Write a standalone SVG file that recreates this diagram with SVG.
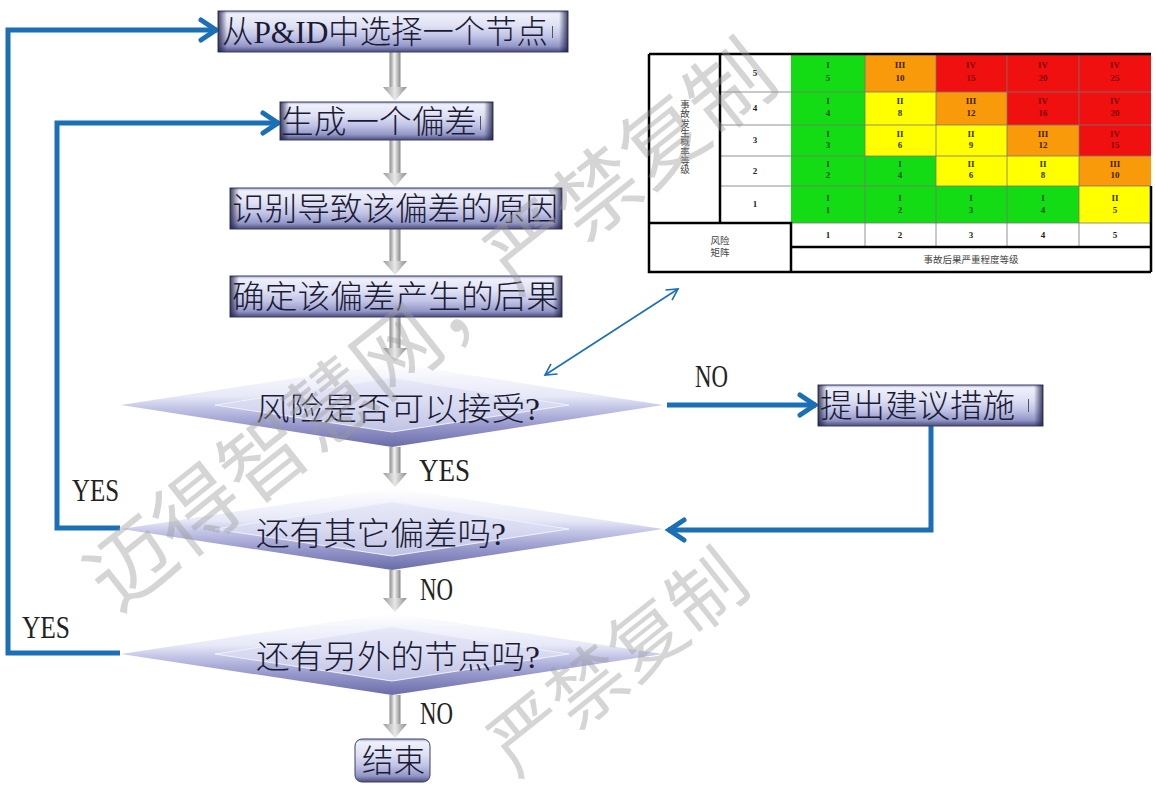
<svg xmlns="http://www.w3.org/2000/svg" width="1156" height="802" viewBox="0 0 1156 802">
<style>
.bt{font-family:"Liberation Serif","Noto Sans CJK SC",serif;font-size:32px;font-weight:300;fill:#1b1b35;dominant-baseline:central}
.lbl{font-family:"Liberation Serif",serif;font-size:32px;fill:#222}
.box{fill:url(#gBox);stroke:#3c3e66;stroke-width:1}
.bevL{fill:url(#gBevL)}
.bevR{fill:url(#gBevR)}
.dOut{fill:url(#gDiaO)}
.dIn{fill:url(#gDiaI);stroke:#eef0fb;stroke-width:1}
.shaft{fill:url(#gShaft)}
.head{fill:url(#gHead)}
.blue{fill:none;stroke:#1b6fb5;stroke-width:5;stroke-linejoin:miter}
.thin{fill:none;stroke:#1b6fb5;stroke-width:1.6}
.cur{stroke:#555;stroke-width:1}
.mt{font-family:"Liberation Serif",serif;font-size:9px;font-weight:bold;text-anchor:middle}
.ml{font-family:"Liberation Serif","Noto Sans CJK SC",serif;font-size:9.5px;fill:#444;text-anchor:middle}
.g{fill:#14dc14}.y{fill:#ffff00}.o{fill:#f99a0a}.r{fill:#f01010}
.tg{fill:#1c4d1c}.ty{fill:#333300}.to{fill:#3a2000}.tr{fill:#7a0000}
.thick{stroke:#000;stroke-width:2.5;fill:none}
.grid{stroke:#777;stroke-width:0.8;fill:none}
.wm{font-family:"Noto Sans CJK SC",sans-serif;font-size:85px;fill:#9a9a9a;fill-opacity:0.42;text-anchor:middle;dominant-baseline:central}
</style>
<defs>
<linearGradient id="gBox" x1="0" y1="0" x2="0" y2="1">
<stop offset="0" stop-color="#a4a7cb"/>
<stop offset="0.07" stop-color="#eef0fa"/>
<stop offset="0.35" stop-color="#e0e2f4"/>
<stop offset="0.62" stop-color="#c0c3e5"/>
<stop offset="0.86" stop-color="#9296c7"/>
<stop offset="1" stop-color="#4a4d7e"/>
</linearGradient>
<linearGradient id="gBevL" x1="0" y1="0" x2="1" y2="0">
<stop offset="0" stop-color="#1e2046" stop-opacity="0.85"/>
<stop offset="1" stop-color="#1e2046" stop-opacity="0"/>
</linearGradient>
<linearGradient id="gBevR" x1="1" y1="0" x2="0" y2="0">
<stop offset="0" stop-color="#1e2046" stop-opacity="0.85"/>
<stop offset="1" stop-color="#1e2046" stop-opacity="0"/>
</linearGradient>
<linearGradient id="gDiaO" x1="0" y1="0" x2="0" y2="1">
<stop offset="0" stop-color="#ffffff"/>
<stop offset="0.4" stop-color="#e6e8f7"/>
<stop offset="0.52" stop-color="#c6c8e8"/>
<stop offset="0.75" stop-color="#9597cb"/>
<stop offset="1" stop-color="#6a6ca8"/>
</linearGradient>
<linearGradient id="gDiaI" x1="0" y1="0" x2="0" y2="1">
<stop offset="0" stop-color="#e8eaf8"/>
<stop offset="0.5" stop-color="#d8daf1"/>
<stop offset="1" stop-color="#bfc2e3"/>
</linearGradient>
<linearGradient id="gShaft" x1="0" y1="0" x2="1" y2="0">
<stop offset="0" stop-color="#8a8a8a"/>
<stop offset="0.45" stop-color="#f2f2f2"/>
<stop offset="1" stop-color="#888888"/>
</linearGradient>
<linearGradient id="gHead" x1="0" y1="0" x2="1" y2="0">
<stop offset="0" stop-color="#9a9a9a"/>
<stop offset="0.5" stop-color="#e8e8e8"/>
<stop offset="1" stop-color="#8c8c8c"/>
</linearGradient>
<marker id="chev" markerUnits="userSpaceOnUse" viewBox="0 0 24 26" markerWidth="24" markerHeight="26" refX="20" refY="13" orient="auto">
<path d="M4,3 L19,13 L4,23" fill="none" stroke="#1b6fb5" stroke-width="5" stroke-linecap="round" stroke-linejoin="miter"/>
</marker>
<marker id="chevT" markerUnits="userSpaceOnUse" viewBox="0 0 16 16" markerWidth="16" markerHeight="16" refX="14" refY="8" orient="auto-start-reverse">
<path d="M3,2 L14,8 L3,14" fill="none" stroke="#1b6fb5" stroke-width="1.6"/>
</marker>
</defs>

<rect x="0" y="0" width="1156" height="802" fill="#ffffff"/>

<!-- gray flow arrows -->
<g id="gray-arrows">
<rect class="shaft" x="389.5" y="52" width="11" height="36"/><polygon class="head" points="383,87 407,87 395,101"/>
<rect class="shaft" x="389.5" y="140" width="11" height="34"/><polygon class="head" points="383,173 407,173 395,187"/>
<rect class="shaft" x="389.5" y="229" width="11" height="33"/><polygon class="head" points="383,261 407,261 395,275"/>
<rect class="shaft" x="389.5" y="317" width="11" height="32"/><polygon class="head" points="383,348 407,348 395,362"/>
<rect class="shaft" x="389.5" y="447" width="11" height="27"/><polygon class="head" points="383,473 407,473 395,487"/>
<rect class="shaft" x="389.5" y="570" width="11" height="29"/><polygon class="head" points="383,598 407,598 395,612"/>
<rect class="shaft" x="389.5" y="695" width="11" height="30"/><polygon class="head" points="383,724 407,724 395,738"/>
</g>

<!-- blue connectors -->
<g id="connectors">
<path class="blue" d="M120,653 H8 V30 H217" marker-end="url(#chev)"/>
<path class="blue" d="M120,528 H57 V123 H279" marker-end="url(#chev)"/>
<path class="blue" d="M667,405 H816" marker-end="url(#chev)"/>
<path class="blue" d="M931,426 V530 H668" marker-end="url(#chev)"/>
<path class="thin" d="M545,375 L678,289" marker-start="url(#chevT)" marker-end="url(#chevT)"/>
</g>

<!-- nodes -->
<g id="n-select">
<rect class="box" x="218" y="11" width="350" height="41"/>
<rect class="bevL" x="218" y="11" width="9" height="41"/><rect class="bevR" x="559" y="11" width="9" height="41"/>
<text class="bt" x="222" y="32" textLength="326" lengthAdjust="spacingAndGlyphs">从P&amp;ID中选择一个节点</text>
<line class="cur" x1="552.5" y1="26" x2="552.5" y2="38"/>
</g>
<g id="n-deviation">
<rect class="box" x="280" y="102" width="213" height="38"/>
<rect class="bevL" x="280" y="102" width="9" height="38"/><rect class="bevR" x="484" y="102" width="9" height="38"/>
<text class="bt" x="281" y="121.5" textLength="196" lengthAdjust="spacingAndGlyphs">生成一个偏差</text>
<line class="cur" x1="480.5" y1="116" x2="480.5" y2="130"/>
</g>
<g id="n-causes">
<rect class="box" x="230" y="188" width="332" height="41"/>
<rect class="bevL" x="230" y="188" width="9" height="41"/><rect class="bevR" x="553" y="188" width="9" height="41"/>
<text class="bt" x="232" y="209" textLength="326" lengthAdjust="spacingAndGlyphs">识别导致该偏差的原因</text>
</g>
<g id="n-consequences">
<rect class="box" x="230" y="276" width="332" height="41"/>
<rect class="bevL" x="230" y="276" width="9" height="41"/><rect class="bevR" x="553" y="276" width="9" height="41"/>
<text class="bt" x="232" y="297" textLength="327" lengthAdjust="spacingAndGlyphs">确定该偏差产生的后果</text>
</g>
<g id="d-risk">
<polygon class="dOut" points="121,405 392,363 663,405 392,447"/>
<polygon class="dIn" points="215,405 392,378 569,405 392,432"/>
<text class="bt" x="256" y="409" textLength="284" lengthAdjust="spacingAndGlyphs">风险是否可以接受?</text>
</g>
<g id="d-other-dev">
<polygon class="dOut" points="121,529 392,488 663,529 392,570"/>
<polygon class="dIn" points="215,529 392,502 569,529 392,556"/>
<text class="bt" x="256" y="534" textLength="250" lengthAdjust="spacingAndGlyphs">还有其它偏差吗?</text>
</g>
<g id="d-other-node">
<polygon class="dOut" points="121,654 392,613 663,654 392,695"/>
<polygon class="dIn" points="215,654 392,627 569,654 392,681"/>
<text class="bt" x="256" y="657" textLength="284" lengthAdjust="spacingAndGlyphs">还有另外的节点吗?</text>
</g>
<g id="n-measures">
<rect class="box" x="818" y="385" width="225" height="41"/>
<rect class="bevL" x="818" y="385" width="9" height="41"/><rect class="bevR" x="1034" y="385" width="9" height="41"/>
<text class="bt" x="820" y="406" textLength="195" lengthAdjust="spacingAndGlyphs">提出建议措施</text>
<line class="cur" x1="1028.5" y1="399" x2="1028.5" y2="412"/>
</g>
<g id="n-end">
<rect class="box" x="355" y="739" width="75" height="43" rx="7"/>
<text class="bt" x="362" y="761" textLength="63" lengthAdjust="spacingAndGlyphs">结束</text>
</g>

<!-- labels -->
<g id="labels">
<text class="lbl" x="695" y="387" textLength="33" lengthAdjust="spacingAndGlyphs">NO</text>
<text class="lbl" x="419" y="481" textLength="51" lengthAdjust="spacingAndGlyphs">YES</text>
<text class="lbl" x="420" y="600" textLength="33" lengthAdjust="spacingAndGlyphs">NO</text>
<text class="lbl" x="420" y="724" textLength="33" lengthAdjust="spacingAndGlyphs">NO</text>
<text class="lbl" x="72" y="501" textLength="47" lengthAdjust="spacingAndGlyphs">YES</text>
<text class="lbl" x="22" y="638" textLength="48" lengthAdjust="spacingAndGlyphs">YES</text>
</g>

<!-- risk matrix -->
<g id="risk-matrix">
<rect x="649" y="54" width="502" height="218" fill="#ffffff"/>
<rect class="g" x="791" y="54" width="74" height="38"/><rect class="o" x="865" y="54" width="71" height="38"/><rect class="r" x="936" y="54" width="71" height="38"/><rect class="r" x="1007" y="54" width="72" height="38"/><rect class="r" x="1079" y="54" width="72" height="38"/>
<rect class="g" x="791" y="92" width="74" height="33"/><rect class="y" x="865" y="92" width="71" height="33"/><rect class="o" x="936" y="92" width="71" height="33"/><rect class="r" x="1007" y="92" width="72" height="33"/><rect class="r" x="1079" y="92" width="72" height="33"/>
<rect class="g" x="791" y="125" width="74" height="31"/><rect class="y" x="865" y="125" width="71" height="31"/><rect class="y" x="936" y="125" width="71" height="31"/><rect class="o" x="1007" y="125" width="72" height="31"/><rect class="r" x="1079" y="125" width="72" height="31"/>
<rect class="g" x="791" y="156" width="74" height="30"/><rect class="g" x="865" y="156" width="71" height="30"/><rect class="y" x="936" y="156" width="71" height="30"/><rect class="y" x="1007" y="156" width="72" height="30"/><rect class="o" x="1079" y="156" width="72" height="30"/>
<rect class="g" x="791" y="186" width="74" height="37"/><rect class="g" x="865" y="186" width="71" height="37"/><rect class="g" x="936" y="186" width="71" height="37"/><rect class="g" x="1007" y="186" width="72" height="37"/><rect class="y" x="1079" y="186" width="72" height="37"/>

<path class="grid" d="M720,92 H1151 M720,125 H1151 M720,156 H1151 M720,186 H1151 M791,223 H1151 M865,54 V247 M936,54 V247 M1007,54 V247 M1079,54 V247"/>
<path class="thick" d="M649,54 H1151 M649,54 V272 H1151 M720,54 V223 M649,223 H791 V272 M1151,186 V272 M791,247 H1151"/>

<g class="mt">
<text class="tg" x="828" y="68">I</text><text class="tg" x="828" y="81">5</text>
<text class="to" x="900" y="68">III</text><text class="to" x="900" y="81">10</text>
<text class="tr" x="971" y="68">IV</text><text class="tr" x="971" y="81">15</text>
<text class="tr" x="1043" y="68">IV</text><text class="tr" x="1043" y="81">20</text>
<text class="tr" x="1115" y="68">IV</text><text class="tr" x="1115" y="81">25</text>

<text class="tg" x="828" y="104">I</text><text class="tg" x="828" y="116">4</text>
<text class="ty" x="900" y="104">II</text><text class="ty" x="900" y="116">8</text>
<text class="to" x="971" y="104">III</text><text class="to" x="971" y="116">12</text>
<text class="tr" x="1043" y="104">IV</text><text class="tr" x="1043" y="116">16</text>
<text class="tr" x="1115" y="104">IV</text><text class="tr" x="1115" y="116">20</text>

<text class="tg" x="828" y="137">I</text><text class="tg" x="828" y="148">3</text>
<text class="ty" x="900" y="137">II</text><text class="ty" x="900" y="148">6</text>
<text class="ty" x="971" y="137">II</text><text class="ty" x="971" y="148">9</text>
<text class="to" x="1043" y="137">III</text><text class="to" x="1043" y="148">12</text>
<text class="tr" x="1115" y="137">IV</text><text class="tr" x="1115" y="148">15</text>

<text class="tg" x="828" y="167">I</text><text class="tg" x="828" y="178">2</text>
<text class="tg" x="900" y="167">I</text><text class="tg" x="900" y="178">4</text>
<text class="ty" x="971" y="167">II</text><text class="ty" x="971" y="178">6</text>
<text class="ty" x="1043" y="167">II</text><text class="ty" x="1043" y="178">8</text>
<text class="to" x="1115" y="167">III</text><text class="to" x="1115" y="178">10</text>

<text class="tg" x="828" y="201">I</text><text class="tg" x="828" y="213">1</text>
<text class="tg" x="900" y="201">I</text><text class="tg" x="900" y="213">2</text>
<text class="tg" x="971" y="201">I</text><text class="tg" x="971" y="213">3</text>
<text class="tg" x="1043" y="201">I</text><text class="tg" x="1043" y="213">4</text>
<text class="ty" x="1115" y="201">II</text><text class="ty" x="1115" y="213">5</text>

<text fill="#222" x="755" y="76">5</text>
<text fill="#222" x="755" y="111">4</text>
<text fill="#222" x="755" y="143">3</text>
<text fill="#222" x="755" y="174">2</text>
<text fill="#222" x="755" y="207">1</text>

<text fill="#222" x="828" y="238">1</text>
<text fill="#222" x="900" y="238">2</text>
<text fill="#222" x="971" y="238">3</text>
<text fill="#222" x="1043" y="238">4</text>
<text fill="#222" x="1115" y="238">5</text>
</g>
<text class="ml" x="685" y="108"><tspan x="685">事</tspan><tspan x="685" dy="9.3">故</tspan><tspan x="685" dy="9.3">发</tspan><tspan x="685" dy="9.3">生</tspan><tspan x="685" dy="9.3">概</tspan><tspan x="685" dy="9.3">率</tspan><tspan x="685" dy="9.3">等</tspan><tspan x="685" dy="9.3">级</tspan></text>
<text class="ml" x="720" y="244">风险</text>
<text class="ml" x="720" y="256">矩阵</text>
<text class="ml" x="971" y="263">事故后果严重程度等级</text>
</g>

<!-- watermark -->
<g id="watermark">
<text class="wm" transform="translate(426,320) rotate(-38.5)" x="0" y="0">迈得智慧网，严禁复制</text>
<text class="wm" style="font-size:76px" transform="translate(614,658) rotate(-38.5)" x="0" y="0">严禁复制</text>
</g>
</svg>
